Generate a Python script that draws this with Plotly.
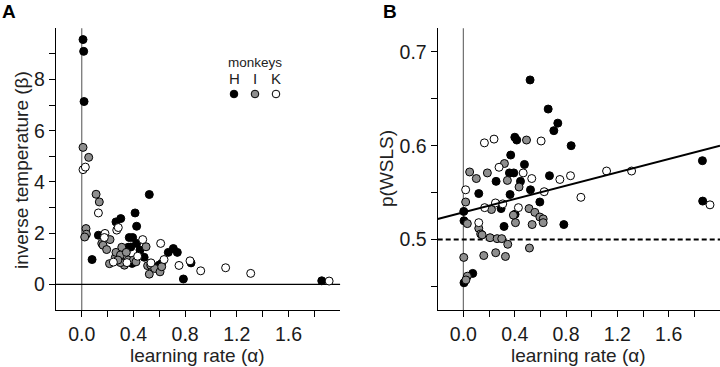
import plotly.graph_objects as go

# ---------------- data: panel A (learning rate alpha vs inverse temperature beta)
A_H_alpha = [0.010, 0.015, 0.018, 0.080, 0.129, 0.265, 0.302, 0.413, 0.425, 0.523, 0.368, 0.394,
             0.380, 0.425, 0.322, 0.451, 0.483, 0.390, 0.598, 0.619, 0.670, 0.709, 0.740, 0.787,
             0.846, 1.858, 0.360, 0.300]
A_H_beta = [9.56, 9.10, 7.14, 0.97, 1.92, 2.44, 2.57, 2.79, 2.27, 3.51, 1.83, 1.83,
            1.46, 1.60, 1.36, 1.34, 1.06, 0.82, 0.75, 0.82, 1.25, 1.40, 1.25, 0.21,
            0.84, 0.14, 1.45, 0.90]
A_I_alpha = [0.010, 0.054, 0.033, 0.036, 0.023, 0.111, 0.136, 0.155, 0.165, 0.193, 0.219, 0.215,
             0.260, 0.265, 0.300, 0.310, 0.330, 0.345, 0.360, 0.300, 0.400, 0.420, 0.498, 0.510,
             0.523, 0.534, 0.565, 0.606, 0.619, 0.280]
A_I_beta = [5.35, 4.96, 2.18, 1.96, 1.85, 3.52, 3.22, 1.60, 1.53, 1.36, 1.75, 0.81,
            1.05, 1.25, 1.15, 1.45, 0.75, 1.25, 0.95, 0.85, 0.95, 0.88, 1.47, 0.73,
            0.40, 0.75, 0.62, 0.49, 0.69, 0.95]
A_K_alpha = [0.010, 0.028, 0.129, 0.180, 0.175, 0.271, 0.283, 0.245, 0.433, 0.472, 0.536, 0.611,
             0.637, 0.753, 0.838, 0.921, 1.114, 1.308, 1.915, 0.350]
A_K_beta = [4.48, 4.58, 2.79, 1.99, 1.83, 2.12, 2.22, 0.87, 1.10, 1.75, 0.84, 1.60,
            0.97, 0.74, 0.92, 0.53, 0.65, 0.43, 0.13, 0.85]

# ---------------- data: panel B (learning rate alpha vs p(WSLS))
B_H_alpha = [0.520, 0.661, 0.736, 0.705, 0.840, 0.401, 0.416, 0.369, 0.476, 0.359, 0.393, 0.445,
             0.255, 0.671, 0.523, 0.120, 0.364, 0.596, 0.294, 0.003, 0.403, 0.317, 0.783, 0.005,
             0.073, 0.005, 1.863, 1.865]
B_H_p = [0.670, 0.639, 0.624, 0.616, 0.600, 0.609, 0.606, 0.590, 0.580, 0.571, 0.571, 0.562,
         0.562, 0.568, 0.553, 0.549, 0.548, 0.540, 0.533, 0.530, 0.527, 0.514, 0.516, 0.520,
         0.464, 0.454, 0.584, 0.541]
B_I_alpha = [0.492, 0.320, 0.187, 0.049, 0.101, 0.343, 0.434, 0.018, 0.219, 0.512, 0.557, 0.596,
             0.622, 0.622, 0.390, 0.406, 0.536, 0.031, 0.120, 0.135, 0.146, 0.208, 0.263, 0.299,
             0.346, 0.515, 0.159, 0.252, 0.328, 0.003, 0.031, 0.020]
B_I_p = [0.606, 0.581, 0.571, 0.572, 0.565, 0.563, 0.556, 0.540, 0.532, 0.533, 0.529, 0.524,
         0.522, 0.518, 0.526, 0.518, 0.516, 0.517, 0.512, 0.506, 0.505, 0.502, 0.501, 0.501,
         0.495, 0.491, 0.483, 0.486, 0.482, 0.481, 0.461, 0.457]
B_K_alpha = [0.164, 0.239, 0.606, 0.278, 0.466, 0.533, 0.752, 0.835, 1.116, 1.311, 0.916, 0.630,
             0.018, 0.166, 0.250, 0.307, 0.429, 0.120, 1.922]
B_K_p = [0.603, 0.607, 0.605, 0.577, 0.571, 0.565, 0.564, 0.568, 0.573, 0.573, 0.545, 0.551,
         0.553, 0.534, 0.539, 0.538, 0.534, 0.518, 0.537]

# regression line in panel B
fit_x = [-0.2, 2.0]
fit_y = [0.522, 0.600]
chance_level = 0.5

# ---------------- ticks
x_tickvals = [0.0, 0.2, 0.4, 0.6, 0.8, 1.0, 1.2, 1.4, 1.6, 1.8]
x_ticktext = ["0.0", "", "0.4", "", "0.8", "", "1.2", "", "1.6", ""]
A_y_tickvals = [0, 1, 2, 3, 4, 5, 6, 7, 8, 9]
A_y_ticktext = ["0", "", "2", "", "4", "", "6", "", "8", ""]
B_y_tickvals = [0.45, 0.50, 0.55, 0.60, 0.65, 0.70]
B_y_ticktext = ["", "0.5", "", "0.6", "", "0.7"]

monkeys = ["H", "I", "K"]
fills = {"H": "#000000", "I": "#8e8e8e", "K": "#ffffff"}

FONT = "Liberation Sans, Arial, sans-serif"
W, H = 720, 367

fig = go.Figure()

def add_pts(x, y, m, xa, ya):
    fig.add_trace(go.Scatter(
        x=x, y=y, mode="markers", xaxis=xa, yaxis=ya, showlegend=False, hoverinfo="skip",
        marker=dict(size=8, color=fills[m], line=dict(color="black", width=1))))

add_pts(A_H_alpha, A_H_beta, "H", "x", "y")
add_pts(A_I_alpha, A_I_beta, "I", "x", "y")
add_pts(A_K_alpha, A_K_beta, "K", "x", "y")
add_pts(B_H_alpha, B_H_p, "H", "x2", "y2")
add_pts(B_I_alpha, B_I_p, "I", "x2", "y2")
add_pts(B_K_alpha, B_K_p, "K", "x2", "y2")

fig.add_trace(go.Scatter(x=fit_x, y=fit_y, mode="lines", xaxis="x2", yaxis="y2",
                         showlegend=False, hoverinfo="skip", line=dict(color="black", width=2)))

ydom = [1 - 310 / H, 1 - 28.3 / H]
axis_common = dict(showgrid=False, zeroline=False, showline=True, linecolor="black",
                   linewidth=1.3, ticks="outside", ticklen=6, tickwidth=1.2, tickcolor="black",
                   tickfont=dict(family=FONT, size=19.5, color="#1a1a1a"))

fig.update_layout(
    width=W, height=H, margin=dict(l=0, r=0, t=0, b=0),
    paper_bgcolor="white", plot_bgcolor="white",
    xaxis=dict(domain=[55.9 / W, 340.1 / W], range=[-0.2, 2.0], anchor="y",
               tickvals=x_tickvals, ticktext=x_ticktext, **axis_common),
    yaxis=dict(domain=ydom, range=[-1, 10], anchor="x",
               tickvals=A_y_tickvals, ticktext=A_y_ticktext, **axis_common),
    xaxis2=dict(domain=[437.7 / W, 1.0], range=[-0.2, 2.0], anchor="y2",
                tickvals=x_tickvals, ticktext=x_ticktext, **axis_common),
    yaxis2=dict(domain=ydom, range=[0.425, 0.725], anchor="x2",
                tickvals=B_y_tickvals, ticktext=B_y_ticktext, **axis_common),
)

shapes = [
    dict(type="line", xref="x", yref="y domain", x0=0, x1=0, y0=0, y1=1,
         line=dict(color="#6e6e6e", width=1.2), layer="below"),
    dict(type="line", xref="x domain", yref="y", x0=0, x1=1, y0=0, y1=0,
         line=dict(color="black", width=1.2), layer="below"),
    dict(type="line", xref="x2", yref="y2 domain", x0=0, x1=0, y0=0, y1=1,
         line=dict(color="#6e6e6e", width=1.2), layer="below"),
    dict(type="line", xref="x2 domain", yref="y2", x0=0, x1=1, y0=chance_level, y1=chance_level,
         line=dict(color="black", width=2, dash="5px,3px"), layer="below"),
]
# legend symbols
leg_x = [234 / W, 255 / W, 276 / W]
for m, lx in zip(monkeys, leg_x):
    shapes.append(dict(type="circle", xref="paper", yref="paper",
                       xsizemode="pixel", ysizemode="pixel", xanchor=lx, yanchor=1 - 94 / H,
                       x0=-3.8, x1=3.8, y0=-3.8, y1=3.8,
                       fillcolor=fills[m], line=dict(color="black", width=1)))
fig.update_layout(shapes=shapes)

ann = [
    dict(text="<b>A</b>", x=0 / W, y=1 - 11 / H, xanchor="left", yanchor="middle",
         font=dict(size=19, family=FONT, color="black")),
    dict(text="<b>B</b>", x=381 / W, y=1 - 11 / H, xanchor="left", yanchor="middle",
         font=dict(size=19, family=FONT, color="black")),
    dict(text="learning rate (α)", x=197.5 / W, y=1 - 355 / H, xanchor="center", yanchor="middle",
         font=dict(size=19, family=FONT, color="#222")),
    dict(text="learning rate (α)", x=578.8 / W, y=1 - 355 / H, xanchor="center", yanchor="middle",
         font=dict(size=19, family=FONT, color="#222")),
    dict(text="inverse temperature (β)", x=22 / W, y=1 - 170 / H, xanchor="center",
         yanchor="middle", textangle=-90, font=dict(size=19, family=FONT, color="#222")),
    dict(text="p(WSLS)", x=386 / W, y=1 - 169 / H, xanchor="center",
         yanchor="middle", textangle=-90, font=dict(size=19, family=FONT, color="#222")),
    dict(text="monkeys", x=255 / W, y=1 - 62 / H, xanchor="center", yanchor="middle",
         font=dict(size=13.5, family=FONT, color="#222")),
]
for m, lx in zip(monkeys, leg_x):
    ann.append(dict(text=m, x=lx, y=1 - 79 / H, xanchor="center", yanchor="middle",
                    font=dict(size=15, family=FONT, color="#222")))
for a in ann:
    a.update(xref="paper", yref="paper", showarrow=False)
fig.update_layout(annotations=ann)

fig.write_html("out.html", config={"displayModeBar": False},
               post_script="document.body.style.margin='0px';document.body.style.overflow='hidden';")
